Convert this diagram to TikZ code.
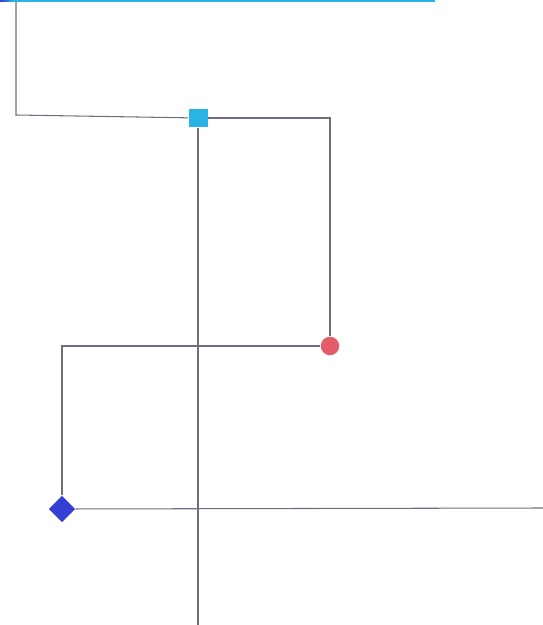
\documentclass[tikz,border=0pt]{standalone}
\usetikzlibrary{shapes.geometric}
\definecolor{linegray}{HTML}{6E6E80}
\definecolor{skyblue}{HTML}{29B4E6}
\definecolor{rosered}{HTML}{E35C67}
\definecolor{royalblue}{HTML}{3340D3}
\tikzset{
  wire/.style={draw=linegray, line width=0.6pt},
  sqmark/.style={rectangle, fill=skyblue, minimum size=0.38cm, inner sep=0pt},
  dotmark/.style={circle, fill=rosered, minimum size=0.37cm, inner sep=0pt},
  dmmark/.style={diamond, fill=royalblue, minimum width=0.53cm, minimum height=0.53cm, inner sep=0pt},
}
\begin{document}
\begin{tikzpicture}[x=0.02cm, y=-0.02cm]
  \useasboundingbox (0,0) rectangle (543,625);

  \coordinate (top)   at (16,0);
  \coordinate (bend)  at (16,115);
  \coordinate (foot)  at (198,625);
  \coordinate (tail)  at (543,508);

  \node[sqmark]  (sq)  at (198,118) {};
  \node[dotmark] (dot) at (330,346) {};
  \node[dmmark]  (dm)  at (62,509) {};

  \path[wire] (top) -- (bend) -- (sq);
  \path[wire] (sq) -| (dot);
  \path[wire] (sq) -- (foot);
  \path[wire] (dot) -| (dm);
  \path[wire] (dm) -- (tail);

  \fill[skyblue] (0,0) rectangle (435,2);
  \shade[left color=royalblue, right color=skyblue] (0,0) rectangle (14,2);
\end{tikzpicture}
\end{document}
